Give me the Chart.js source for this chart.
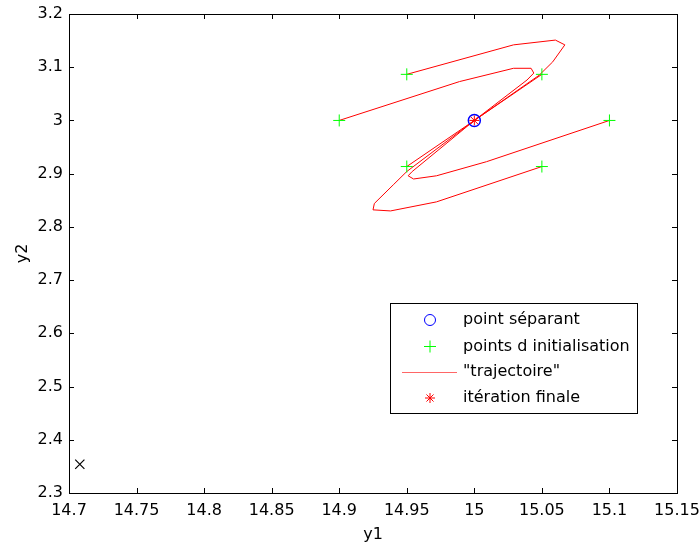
<!DOCTYPE html>
<html>
<head>
<meta charset="utf-8">
<script src="https://cdn.jsdelivr.net/npm/chart.js@4.4.1/dist/chart.umd.min.js"></script>
<style>
  body { margin: 0; background: #fff; }
  #wrap { width: 700px; height: 545px; }
</style>
</head>
<body>
<div id="wrap"><canvas id="graphe" width="700" height="545"></canvas></div>
<script>
// graduations des axes
const xTicks = [14.7, 14.75, 14.8, 14.85, 14.9, 14.95, 15, 15.05, 15.1, 15.15];
const yTicks = [2.3, 2.4, 2.5, 2.6, 2.7, 2.8, 2.9, 3, 3.1, 3.2];

// point séparant et itération finale
const pointSeparant = [[15, 3]];
const iterationFinale = [[15, 3]];

// points d initialisation (cercle de rayon 0.1 autour du point séparant)
const pointsInit = [
    [14.9, 3.0], [14.95, 3.0866], [15.05, 3.0866],
    [15.1, 3.0], [15.05, 2.9134], [14.95, 2.9134]
];

// trajectoires
const traj1 = [[14.9, 3.0], [14.989, 3.073], [15.029, 3.098], [15.042, 3.098], [15.044, 3.089], [15.039, 3.076], [15, 3]];
const traj2 = [[14.95, 3.0866], [15.029, 3.142], [15.060, 3.151], [15.067, 3.142], [15.058, 3.110], [15.048, 3.085], [15, 3]];
const traj3 = [[15.05, 3.0866], [15, 3]];
const traj4 = [[15.1, 3.0], [15.009, 2.9225], [14.972, 2.896], [14.955, 2.890], [14.951, 2.896], [14.954, 2.904], [15, 3]];
const traj5 = [[15.05, 2.9134], [14.972, 2.847], [14.938, 2.830], [14.925, 2.832], [14.926, 2.844], [14.940, 2.879], [14.950, 2.904], [15, 3]];
const traj6 = [[14.95, 2.9134], [15, 3]];

// marqueur isolé en bas à gauche
const croixNoire = [[14.708, 2.354]];

const legendeLabels = ["point séparant", "points d initialisation", "\"trajectoire\"", "itération finale"];

const police = "'DejaVu Sans', 'Liberation Sans', Arial, sans-serif";
const taille = 16;

function pts(liste) {
    return liste.map((p) => ({ x: p[0], y: p[1] }));
}

function trajectoire(liste) {
    return {
        data: pts(liste),
        showLine: true,
        borderColor: "#ff0000",
        borderWidth: 1,
        pointRadius: 0,
        tension: 0,
    };
}

// ticks à l'intérieur + cadre + légende dans la zone de tracé
const cadrePlugin = {
    id: "cadre",
    afterDraw(chart) {
        const ctx = chart.ctx;
        const a = chart.chartArea;
        const sx = chart.scales.x;
        const sy = chart.scales.y;
        const tl = 5;
        ctx.save();
        ctx.strokeStyle = "#000";
        ctx.lineWidth = 1;
        ctx.beginPath();
        xTicks.forEach((v) => {
            const px = Math.round(sx.getPixelForValue(v)) + 0.5;
            ctx.moveTo(px, a.bottom); ctx.lineTo(px, a.bottom - tl);
            ctx.moveTo(px, a.top); ctx.lineTo(px, a.top + tl);
        });
        yTicks.forEach((v) => {
            const py = Math.round(sy.getPixelForValue(v)) + 0.5;
            ctx.moveTo(a.left, py); ctx.lineTo(a.left + tl, py);
            ctx.moveTo(a.right, py); ctx.lineTo(a.right - tl, py);
        });
        ctx.stroke();
        ctx.strokeRect(Math.round(a.left) + 0.5, Math.round(a.top) + 0.5,
            Math.round(a.right - a.left), Math.round(a.bottom - a.top));

        // légende
        const lx = 390, ly = 303, lw = 247, lh = 110;
        ctx.fillStyle = "#fff";
        ctx.fillRect(lx, ly, lw, lh);
        ctx.strokeRect(lx + 0.5, ly + 0.5, lw, lh);
        const rows = [320, 346.5, 372, 398];
        const mx = 430;
        ctx.lineWidth = 1;
        // cercle bleu
        ctx.strokeStyle = "#0000ff";
        ctx.beginPath();
        ctx.arc(mx, rows[0], 5.5, 0, Math.PI * 2);
        ctx.stroke();
        // croix verte
        ctx.strokeStyle = "#00ff00";
        ctx.beginPath();
        ctx.moveTo(mx - 6, rows[1]); ctx.lineTo(mx + 6, rows[1]);
        ctx.moveTo(mx, rows[1] - 6); ctx.lineTo(mx, rows[1] + 6);
        ctx.stroke();
        // ligne rouge
        ctx.strokeStyle = "#ff6666";
        ctx.beginPath();
        ctx.moveTo(402, rows[2] + 0.5); ctx.lineTo(457, rows[2] + 0.5);
        ctx.stroke();
        // astérisque rouge
        ctx.strokeStyle = "#ff0000";
        ctx.beginPath();
        for (let k = 0; k < 4; k++) {
            const ang = k * Math.PI / 4;
            const dx = Math.cos(ang) * 5, dy = Math.sin(ang) * 5;
            ctx.moveTo(mx - dx, rows[3] - dy); ctx.lineTo(mx + dx, rows[3] + dy);
        }
        ctx.stroke();

        ctx.fillStyle = "#000";
        ctx.font = taille + "px " + police;
        ctx.textBaseline = "middle";
        ctx.textAlign = "left";
        legendeLabels.forEach((t, i) => ctx.fillText(t, 463, rows[i]));
        ctx.restore();
    },
};

const ctx = document.getElementById("graphe").getContext("2d");

new Chart(ctx, {
    type: "scatter",
    data: {
        datasets: [
            {
                data: pts(iterationFinale),
                pointStyle: "star",
                pointRadius: 5,
                borderColor: "#ff0000",
                backgroundColor: "#ff0000",
                borderWidth: 1,
            },
            {
                data: pts(pointSeparant),
                pointStyle: "circle",
                pointRadius: 6,
                borderColor: "#0000ff",
                backgroundColor: "rgba(0,0,0,0)",
                borderWidth: 1.5,
            },
            {
                data: pts(pointsInit),
                pointStyle: "cross",
                pointRadius: 6,
                borderColor: "#00ff00",
                borderWidth: 1,
            },
            trajectoire(traj1),
            trajectoire(traj2),
            trajectoire(traj3),
            trajectoire(traj4),
            trajectoire(traj5),
            trajectoire(traj6),
            {
                data: pts(croixNoire),
                pointStyle: "crossRot",
                pointRadius: 6.5,
                borderColor: "#000",
                borderWidth: 1.2,
            },
        ],
    },
    options: {
        responsive: false,
        animation: false,
        layout: { padding: { top: 14, right: 23, left: 0, bottom: 0 } },
        plugins: {
            legend: { display: false },
            tooltip: { enabled: false },
        },
        scales: {
            x: {
                type: "linear",
                min: 14.7,
                max: 15.15,
                afterBuildTicks: (s) => { s.ticks = xTicks.map((v) => ({ value: v })); },
                afterFit: (s) => {
                    s.height = 52;
                    s.paddingLeft = 0;
                    s.paddingRight = 0;
                },
                grid: { display: false, drawTicks: false },
                border: { display: false },
                ticks: {
                    color: "#000",
                    font: { size: taille, family: police },
                    padding: 8,
                    maxRotation: 0,
                    autoSkip: false,
                    callback: (v) => String(v),
                },
                title: {
                    display: true,
                    text: "y1",
                    color: "#000",
                    font: { size: taille, family: police },
                    padding: { top: 0, bottom: 1 },
                },
            },
            y: {
                type: "linear",
                min: 2.3,
                max: 3.2,
                afterBuildTicks: (s) => { s.ticks = yTicks.map((v) => ({ value: v })); },
                afterFit: (s) => {
                    s.width = 69;
                    s.paddingTop = 0;
                    s.paddingBottom = 0;
                },
                grid: { display: false, drawTicks: false },
                border: { display: false },
                ticks: {
                    color: "#000",
                    font: { size: taille, family: police },
                    padding: 6,
                    autoSkip: false,
                    callback: (v) => String(v),
                },
                title: {
                    display: true,
                    text: "y2",
                    color: "#000",
                    font: { size: taille, family: police },
                    padding: { top: 13, bottom: 0 },
                },
            },
        },
    },
    plugins: [cadrePlugin],
});
</script>
</body>
</html>
